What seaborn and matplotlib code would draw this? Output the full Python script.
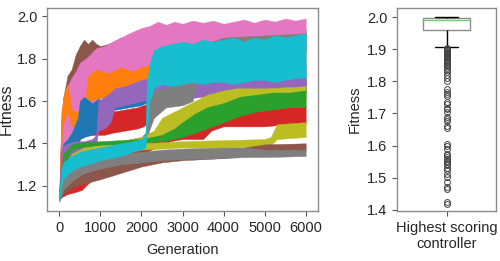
import numpy as np
import pandas as pd
import matplotlib
matplotlib.use("Agg")
import matplotlib.pyplot as plt
import seaborn as sns

# ---------------- data: evolutionary runs (band envelopes) ----------------
brown_high_gen = [0, 50, 100, 200, 300, 400, 500, 600, 700, 800, 900, 1000, 1200, 1500, 2000, 3000, 4000, 5000, 6000]
brown_high_lo = [1.14, 1.30, 1.40, 1.50, 1.55, 1.60, 1.65, 1.68, 1.70, 1.72, 1.72, 1.73, 1.75, 1.77, 1.80, 1.83, 1.84, 1.85, 1.86]
brown_high_hi = [1.18, 1.50, 1.62, 1.72, 1.75, 1.82, 1.86, 1.89, 1.87, 1.89, 1.87, 1.86, 1.87, 1.90, 1.91, 1.93, 1.93, 1.94, 1.94]

pink_gen = [0, 50, 100, 150, 200, 300, 400, 500, 700, 900, 1100, 1300, 1500, 1700, 2000, 2200, 2400, 2600, 2800,
            3000, 3250, 3500, 3750, 4000, 4250, 4500, 4750, 5000, 5250, 5500, 5750, 6000]
pink_hi = [1.16, 1.52, 1.62, 1.65, 1.67, 1.71, 1.74, 1.78, 1.81, 1.85, 1.86, 1.88, 1.90, 1.92, 1.945, 1.955, 1.975, 1.96, 1.975,
           1.965, 1.98, 1.97, 1.98, 1.965, 1.975, 1.985, 1.97, 1.985, 1.975, 1.99, 1.98, 1.99]
pink_lo = [1.13, 1.30, 1.38, 1.40, 1.42, 1.45, 1.50, 1.55, 1.58, 1.60, 1.63, 1.65, 1.67, 1.70, 1.74, 1.76, 1.79, 1.81, 1.82,
           1.84, 1.85, 1.86, 1.86, 1.87, 1.87, 1.88, 1.88, 1.88, 1.89, 1.89, 1.89, 1.89]

orange_gen = [0, 50, 100, 200, 300, 400, 600, 700, 900, 1200, 1500, 1800, 2000, 3000, 4000, 5000, 6000]
orange_lo = [1.14, 1.40, 1.50, 1.55, 1.48, 1.48, 1.50, 1.60, 1.61, 1.62, 1.62, 1.63, 1.65, 1.70, 1.72, 1.74, 1.75]
orange_hi = [1.17, 1.55, 1.62, 1.68, 1.56, 1.55, 1.56, 1.72, 1.75, 1.73, 1.76, 1.74, 1.76, 1.82, 1.84, 1.86, 1.87]

red_a_gen = [0, 100, 200, 400, 500, 700, 900, 1100, 1300, 1600, 1900, 2050, 2300, 2500, 3000, 4000, 5000, 6000]
red_a_lo = [1.14, 1.25, 1.30, 1.36, 1.42, 1.44, 1.44, 1.44, 1.45, 1.46, 1.47, 1.48, 1.52, 1.60, 1.62, 1.63, 1.63, 1.64]
red_a_hi = [1.17, 1.35, 1.40, 1.46, 1.50, 1.53, 1.52, 1.53, 1.55, 1.56, 1.57, 1.58, 1.60, 1.66, 1.68, 1.69, 1.70, 1.70]

blue_gen = [0, 50, 100, 200, 300, 450, 500, 600, 800, 950, 1100, 1250, 1400, 1700, 2000, 2200, 3000, 4000, 5000, 6000]
blue_lo = [1.14, 1.25, 1.28, 1.31, 1.33, 1.38, 1.42, 1.43, 1.44, 1.46, 1.50, 1.555, 1.56, 1.57, 1.58, 1.60, 1.62, 1.63, 1.64, 1.64]
blue_hi = [1.17, 1.36, 1.40, 1.42, 1.45, 1.52, 1.60, 1.62, 1.59, 1.61, 1.60, 1.61, 1.62, 1.63, 1.64, 1.68, 1.70, 1.70, 1.71, 1.71]

purple_gen = [0, 50, 100, 200, 400, 600, 800, 900, 950, 1100, 1250, 1350, 1600, 2000, 2500, 3000, 3500, 4000, 4500, 5000, 5500, 6000]
purple_lo = [1.14, 1.25, 1.30, 1.33, 1.35, 1.36, 1.38, 1.40, 1.46, 1.47, 1.50, 1.57, 1.58, 1.60, 1.61, 1.61, 1.62, 1.62, 1.63, 1.63, 1.63, 1.64]
purple_hi = [1.17, 1.36, 1.39, 1.40, 1.41, 1.41, 1.42, 1.44, 1.60, 1.62, 1.64, 1.66, 1.67, 1.70, 1.72, 1.74, 1.75, 1.75, 1.76, 1.76, 1.77, 1.77]

gray_high_gen = [0, 100, 300, 600, 1000, 1500, 2000, 2100, 2150, 2300, 2600, 3000, 3250, 3400, 4000, 5000, 6000]
gray_high_lo = [1.14, 1.25, 1.30, 1.32, 1.34, 1.36, 1.37, 1.38, 1.44, 1.52, 1.57, 1.58, 1.60, 1.75, 1.80, 1.82, 1.83]
gray_high_hi = [1.17, 1.30, 1.35, 1.37, 1.39, 1.41, 1.43, 1.45, 1.62, 1.65, 1.66, 1.68, 1.70, 1.86, 1.90, 1.91, 1.92]

red_b_gen = [0, 200, 400, 550, 700, 1000, 1500, 2000, 2500, 2700, 3000, 3500, 3700, 4000, 4500, 5000, 5500, 6000]
red_b_lo = [1.14, 1.16, 1.17, 1.18, 1.21, 1.25, 1.30, 1.35, 1.39, 1.41, 1.42, 1.42, 1.46, 1.48, 1.48, 1.48, 1.49, 1.49]
red_b_hi = [1.18, 1.19, 1.20, 1.21, 1.26, 1.30, 1.35, 1.40, 1.44, 1.46, 1.47, 1.48, 1.53, 1.55, 1.56, 1.56, 1.57, 1.58]

olive_high_gen = [0, 200, 500, 1000, 1500, 2000, 2300, 2500, 2800, 3000, 3300, 3600, 4000, 4300, 4600, 5000, 6000]
olive_high_lo = [1.14, 1.25, 1.30, 1.34, 1.37, 1.39, 1.41, 1.42, 1.44, 1.45, 1.48, 1.50, 1.52, 1.55, 1.57, 1.58, 1.60]
olive_high_hi = [1.18, 1.32, 1.36, 1.39, 1.41, 1.43, 1.46, 1.52, 1.55, 1.57, 1.60, 1.63, 1.65, 1.66, 1.66, 1.66, 1.67]

green_gen = [0, 100, 300, 600, 1000, 1500, 2000, 2500, 2800, 3000, 3300, 3600, 4000, 4400, 4800, 5200, 5600, 6000]
green_lo = [1.14, 1.30, 1.37, 1.385, 1.39, 1.395, 1.40, 1.41, 1.42, 1.43, 1.45, 1.47, 1.50, 1.53, 1.55, 1.56, 1.57, 1.57]
green_hi = [1.18, 1.35, 1.395, 1.405, 1.41, 1.415, 1.42, 1.44, 1.47, 1.50, 1.54, 1.57, 1.59, 1.62, 1.63, 1.64, 1.64, 1.65]

olive_low_gen = [0, 100, 300, 600, 1000, 1500, 2000, 2500, 3000, 4000, 5000, 5150, 5300, 6000]
olive_low_lo = [1.13, 1.22, 1.30, 1.34, 1.355, 1.36, 1.37, 1.375, 1.38, 1.38, 1.385, 1.39, 1.42, 1.43]
olive_low_hi = [1.17, 1.27, 1.35, 1.38, 1.39, 1.395, 1.40, 1.405, 1.41, 1.415, 1.42, 1.43, 1.49, 1.50]

brown_low_gen = [0, 100, 300, 600, 1000, 1500, 2000, 2500, 3000, 4000, 4500, 5000, 6000]
brown_low_lo = [1.13, 1.16, 1.19, 1.21, 1.23, 1.26, 1.29, 1.31, 1.32, 1.33, 1.34, 1.36, 1.365]
brown_low_hi = [1.16, 1.20, 1.23, 1.26, 1.28, 1.31, 1.33, 1.35, 1.36, 1.37, 1.38, 1.395, 1.40]

gray_low_gen = [0, 100, 300, 600, 1000, 1500, 2000, 2500, 3000, 4000, 4500, 5000, 6000]
gray_low_lo = [1.13, 1.18, 1.22, 1.26, 1.28, 1.30, 1.31, 1.32, 1.325, 1.33, 1.335, 1.335, 1.34]
gray_low_hi = [1.17, 1.24, 1.28, 1.31, 1.33, 1.35, 1.36, 1.37, 1.375, 1.38, 1.38, 1.37, 1.37]

cyan_gen = [0, 50, 100, 300, 500, 700, 1000, 1500, 1800, 2000, 2100, 2130, 2200, 2300, 2500, 2750, 3000, 3250, 3500, 3750,
            4000, 4250, 4500, 4750, 5000, 5250, 5500, 5750, 6000]
cyan_lo = [1.12, 1.20, 1.23, 1.27, 1.29, 1.30, 1.32, 1.34, 1.36, 1.37, 1.38, 1.45, 1.60, 1.66, 1.68, 1.67, 1.68, 1.69, 1.68, 1.69,
           1.69, 1.68, 1.69, 1.70, 1.70, 1.69, 1.70, 1.71, 1.71]
cyan_hi = [1.16, 1.28, 1.31, 1.34, 1.36, 1.37, 1.38, 1.40, 1.41, 1.42, 1.44, 1.68, 1.78, 1.84, 1.86, 1.87, 1.88, 1.87, 1.89, 1.88,
           1.89, 1.90, 1.88, 1.90, 1.89, 1.91, 1.90, 1.91, 1.92]

# draw order (first = bottom) and colours
runs = [
    ("brown_high", "#8c564b", brown_high_gen, brown_high_lo, brown_high_hi),
    ("pink", "#e377c2", pink_gen, pink_lo, pink_hi),
    ("orange", "#ff7f0e", orange_gen, orange_lo, orange_hi),
    ("red_a", "#d62728", red_a_gen, red_a_lo, red_a_hi),
    ("blue", "#1f77b4", blue_gen, blue_lo, blue_hi),
    ("purple", "#9467bd", purple_gen, purple_lo, purple_hi),
    ("gray_high", "#7f7f7f", gray_high_gen, gray_high_lo, gray_high_hi),
    ("red_b", "#d62728", red_b_gen, red_b_lo, red_b_hi),
    ("olive_high", "#bcbd22", olive_high_gen, olive_high_lo, olive_high_hi),
    ("green", "#2ca02c", green_gen, green_lo, green_hi),
    ("olive_low", "#bcbd22", olive_low_gen, olive_low_lo, olive_low_hi),
    ("brown_low", "#8c564b", brown_low_gen, brown_low_lo, brown_low_hi),
    ("gray_low", "#7f7f7f", gray_low_gen, gray_low_lo, gray_low_hi),
    ("cyan", "#17becf", cyan_gen, cyan_lo, cyan_hi),
]

# ---------------- data: highest scoring controller fitness ----------------
outliers = [1.905, 1.90, 1.898, 1.895, 1.893, 1.89, 1.888, 1.885, 1.882, 1.878,
            1.875, 1.872, 1.868, 1.865, 1.86, 1.856, 1.852, 1.848, 1.843, 1.835,
            1.828, 1.82, 1.81, 1.80, 1.775, 1.768, 1.762, 1.755, 1.735, 1.73,
            1.718, 1.713, 1.705, 1.688, 1.682, 1.675, 1.66, 1.655, 1.605, 1.598,
            1.59, 1.575, 1.57, 1.565, 1.558, 1.552, 1.548, 1.542, 1.538, 1.53,
            1.525, 1.51, 1.502, 1.485, 1.472, 1.465, 1.425, 1.418]
body_values = [1.907, 1.912, 1.918, 1.924, 1.93, 1.936, 1.942, 1.948, 1.953, 1.958,
               1.961, 1.965, 1.97, 1.975, 1.98, 1.985, 1.99, 1.993, 1.996, 1.998, 2.0]
body_counts = [2, 3, 3, 4, 4, 5, 5, 5, 5, 5,
               5, 15, 15, 15, 15, 20, 30, 30, 30, 40, 86]

# ---------------- build frames ----------------
rows = []
for name, col, g, lo, hi in runs:
    for gi, l, h in zip(g, lo, hi):
        rows.append((name, gi, l))
        rows.append((name, gi, h))
df = pd.DataFrame(rows, columns=["run", "Generation", "Fitness"])
palette = {name: col for name, col, *_ in runs}
order = [r[0] for r in runs]

box_vals = list(outliers) + list(np.repeat(body_values, body_counts))
dfb = pd.DataFrame({"group": "Highest scoring\ncontroller", "Fitness": box_vals})

# ---------------- plot ----------------
sns.set_style("ticks")
plt.rcParams["font.family"] = ["Liberation Sans", "DejaVu Sans"]
plt.rcParams["font.size"] = 10.5
text_col = "#262626"
spine_col = "#8c8c8c"

fig = plt.figure(figsize=(5.0, 2.61), dpi=100)
ax1 = fig.add_axes([0.094, 0.1916, 0.542, 0.778])
ax2 = fig.add_axes([0.794, 0.1916, 0.198, 0.778])

sns.lineplot(data=df, x="Generation", y="Fitness", hue="run", hue_order=order,
             palette=palette, estimator="mean", errorbar=("pi", 100),
             err_kws={"alpha": 1.0, "linewidth": 0.3}, linewidth=0, legend=False, ax=ax1)
ax1.set_xlim(-300, 6300)
ax1.set_ylim(1.08, 2.04)
ax1.set_xticks([0, 1000, 2000, 3000, 4000, 5000, 6000])
ax1.set_yticks([1.2, 1.4, 1.6, 1.8, 2.0])
ax1.set_xlabel("Generation", fontsize=10.5, color=text_col, labelpad=6)
ax1.set_ylabel("Fitness", fontsize=11.5, color=text_col, labelpad=2)

sns.boxplot(data=dfb, x="group", y="Fitness", ax=ax2, width=0.47, color="white",
            linecolor=spine_col, linewidth=1.0, fliersize=4.2,
            medianprops={"color": "#6fcf6f", "linewidth": 1.0},
            whiskerprops={"color": "black", "linewidth": 1.0},
            capprops={"color": "black", "linewidth": 1.0},
            flierprops={"marker": "o", "markerfacecolor": "none",
                        "markeredgecolor": "#444444", "markeredgewidth": 0.7})
ax2.set_ylim(1.396, 2.029)
ax2.set_yticks([1.4, 1.5, 1.6, 1.7, 1.8, 1.9, 2.0])
ax2.set_xlabel("")
ax2.set_ylabel("Fitness", fontsize=10.5, color=text_col)

for ax in (ax1, ax2):
    for sp in ax.spines.values():
        sp.set_visible(True)
        sp.set_color(spine_col)
        sp.set_linewidth(1.0)
    ax.tick_params(colors=text_col, labelsize=10.5, length=3.5, width=0.8)
    ax.tick_params(color="#555555")
    ax.grid(False)

fig.savefig("out.png", dpi=100)
